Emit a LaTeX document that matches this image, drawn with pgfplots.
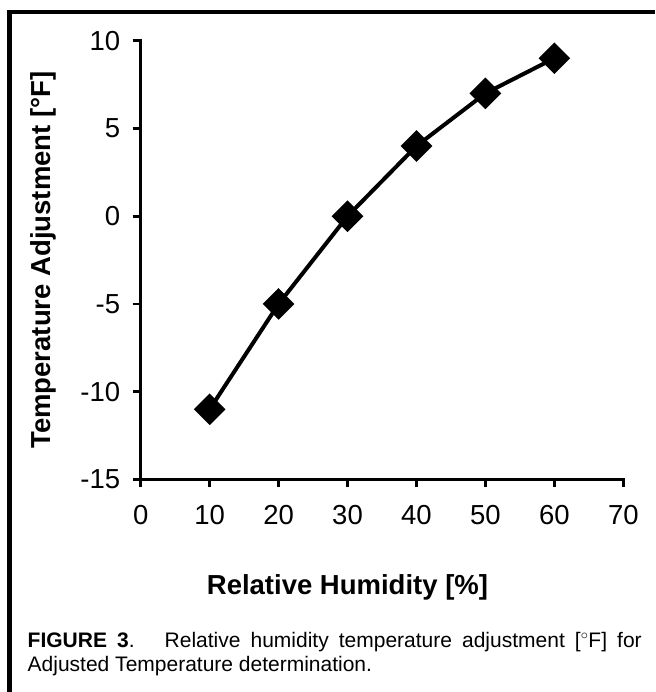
\documentclass[border=0pt]{standalone}
\usepackage{fontspec}
\setmainfont{Liberation Sans}
\usepackage{pgfplots}
\pgfplotsset{compat=1.18}
\begin{document}
\begin{tikzpicture}
\useasboundingbox (0pt,0pt) rectangle (655pt,692pt);
\draw[line width=4.3pt] (9.5pt,0pt) -- (9.5pt,680pt) -- (655pt,680pt);
\begin{axis}[
  at={(140.7pt,212.5pt)}, anchor=south west,
  scale only axis, width=482.6pt, height=438.8pt,
  xmin=0, xmax=70, ymin=-15, ymax=10,
  xtick={0,10,...,70}, ytick={-15,-10,...,10},
  axis x line*=bottom, axis y line*=left,
  axis line style={line width=2.6pt, line cap=rect},
  every tick/.style={black, line width=2.6pt},
  tick align=outside, major tick length=8pt,
  /pgf/number format/assume math mode=true,
  tick label style={font=\fontsize{27.5}{32}\selectfont},
  xticklabel style={yshift=-14pt},
  yticklabel style={xshift=-9pt},
  xlabel={Relative Humidity [\%]},
  ylabel={Temperature Adjustment [°F]},
  xlabel style={font=\fontsize{27.5}{32}\selectfont\bfseries, at={(axis description cs:0.4285,-0.2632)}, anchor=base},
  ylabel style={font=\fontsize{27.5}{32}\selectfont\bfseries, at={(axis description cs:-0.2024,0.5)}, anchor=center},
  clip=false,
]
\addplot[black, line width=4pt, mark=square*, mark size=9.2pt, mark options={rotate=45, solid}]
  coordinates {(10,-11) (20,-5) (30,0) (40,4) (50,7) (60,9)};
\end{axis}
\node[anchor=north west, text width=614pt, align=justify, inner sep=0pt, font=\fontsize{21}{24.5}\selectfont] at (27.5pt,60pt)
  {\textbf{FIGURE 3}.~~~Relative humidity temperature adjustment [$^\circ$F] for\linebreak Adjusted Temperature determination.};
\end{tikzpicture}
\end{document}
